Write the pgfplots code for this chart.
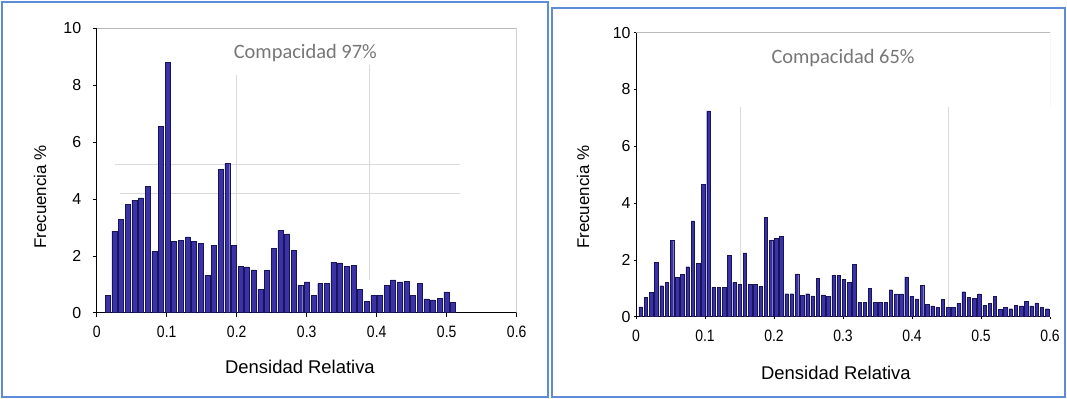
\documentclass[border=0pt]{standalone}
\usepackage{fontspec}
\setmainfont{Liberation Sans}
\newfontfamily\carlito{Carlito}
\newfontfamily\narrow[FakeStretch=0.85]{Liberation Sans}
\usepackage{pgfplots}
\pgfplotsset{compat=1.18}
\definecolor{bardark}{RGB}{24,20,88}
\definecolor{barfill}{RGB}{60,50,168}
\definecolor{framebl}{RGB}{95,140,215}
\definecolor{lightln}{RGB}{218,218,218}
\definecolor{boxgray}{RGB}{185,185,185}
\definecolor{txtgray}{RGB}{118,118,118}
\pgfplotsset{
  hist/.style={
    scale only axis,
    xmin=0, xmax=0.6, ymin=0, ymax=10,
    xtick={0,0.1,0.2,0.3,0.4,0.5,0.6},
    ytick={0,2,4,6,8,10},
    axis x line*=bottom, axis y line*=left,
    axis line style={black, line width=0.8pt},
    tick align=outside, major tick length=4bp,
    tick style={black, line width=0.6pt},
    xticklabel style={font=\narrow\fontsize{16.5}{16.5}\selectfont, yshift=-6bp},
    yticklabel style={font=\fontsize{16}{16}\selectfont},
    xlabel style={font=\fontsize{18.5}{18.5}\selectfont},
    ylabel style={font=\fontsize{17}{17}\selectfont},
    /pgf/number format/fixed,
    /pgf/number format/precision=1,
    /pgf/number format/assume math mode=true,
  },
  bars/.style={ybar, draw=bardark, line width=0.45pt, fill=barfill},
}
\begin{document}
\begin{tikzpicture}
\path[use as bounding box] (0,0) rectangle (1067bp,399bp);
\draw[framebl, line width=1.6bp] (2bp,2bp) rectangle (548bp,397bp);
\draw[framebl, line width=1.6bp] (552bp,2bp) rectangle (1065bp,391bp);

% ---------- left panel ----------
\begin{axis}[hist, at={(96.7bp,86.3bp)}, anchor=south west,
  width=420bp, height=284.4bp,
  yticklabel style={xshift=-8bp},
  xlabel={Densidad Relativa}, ylabel={Frecuencia \%},
  xlabel style={at={(axis description cs:0.484,-0.191)}, anchor=center},
  ylabel style={at={(axis description cs:-0.135,0.407)}, anchor=center}]
\draw[boxgray, line width=0.7pt] (rel axis cs:0,1) -- (rel axis cs:1,1) -- (rel axis cs:1,0);
\addplot[lightln, line width=0.7pt] coordinates {(0.026,5.2) (0.519,5.2)};
\addplot[lightln, line width=0.7pt] coordinates {(0.033,4.21) (0.519,4.21)};
\addplot[lightln, line width=0.7pt] coordinates {(0.199,8.35) (0.199,0.45)};
\addplot[lightln, line width=0.7pt] coordinates {(0.390,8.7) (0.390,1.15)};
\addplot[bars, bar width=0.0071] coordinates {
(0.0159,0.62) (0.0254,2.87) (0.0349,3.29) (0.0443,3.82) (0.0538,3.96)
(0.0633,4.04) (0.0728,4.43) (0.0823,2.16) (0.0917,6.54) (0.1012,8.80)
(0.1107,2.51) (0.1202,2.54) (0.1297,2.67) (0.1391,2.51) (0.1486,2.45)
(0.1581,1.32) (0.1676,2.38) (0.1771,5.04) (0.1865,5.25) (0.1960,2.38)
(0.2055,1.64) (0.2150,1.61) (0.2245,1.51) (0.2339,0.82) (0.2434,1.50)
(0.2529,2.25) (0.2624,2.89) (0.2719,2.77) (0.2813,2.20) (0.2908,0.97)
(0.3003,1.08) (0.3098,0.60) (0.3193,1.02) (0.3287,1.02) (0.3382,1.78)
(0.3477,1.75) (0.3572,1.62) (0.3667,1.66) (0.3761,0.82) (0.3856,0.39)
(0.3951,0.61) (0.4046,0.61) (0.4141,0.97) (0.4235,1.15) (0.4330,1.08)
(0.4425,1.10) (0.4520,0.60) (0.4615,1.03) (0.4709,0.49) (0.4804,0.45)
(0.4899,0.50) (0.4994,0.73) (0.5089,0.37)
};
\node[text=txtgray, font=\carlito\fontsize{20.5}{20.5}\selectfont] at (axis cs:0.298,9.13) {Compacidad 97\%};
\end{axis}

% ---------- right panel ----------
\begin{axis}[hist, at={(636bp,82.3bp)}, anchor=south west,
  width=414bp, height=284bp,
  xtick style={black, line width=0.4pt}, major tick length=2bp,
  xticklabel style={yshift=-2bp},
  xlabel={Densidad Relativa}, ylabel={Frecuencia \%},
  xlabel style={at={(axis description cs:0.483,-0.198)}, anchor=center},
  ylabel style={at={(axis description cs:-0.128,0.421)}, anchor=center}]
\draw[boxgray, line width=0.7pt] (rel axis cs:0,1) -- (rel axis cs:1,1) -- (axis cs:0.6,7.4);
\addplot[lightln, line width=0.7pt] coordinates {(0.1507,7.4) (0.1507,0.6)};
\addplot[lightln, line width=0.7pt] coordinates {(0.452,7.4) (0.452,0.1)};
\addplot[bars, bar width=0.0050, line width=0.35pt] coordinates {
(0.0068,0.35) (0.0144,0.68) (0.0219,0.86) (0.0295,1.91) (0.0370,1.09)
(0.0446,1.22) (0.0521,2.68) (0.0597,1.38) (0.0672,1.50) (0.0748,1.76)
(0.0823,3.37) (0.0899,1.88) (0.0974,4.66) (0.1050,7.25) (0.1125,1.03)
(0.1201,1.03) (0.1276,1.03) (0.1352,2.17) (0.1427,1.21) (0.1503,1.15)
(0.1578,2.25) (0.1654,1.14) (0.1729,1.14) (0.1805,1.08) (0.1880,3.50)
(0.1956,2.68) (0.2031,2.75) (0.2107,2.82) (0.2182,0.81) (0.2258,0.81)
(0.2333,1.51) (0.2409,0.75) (0.2484,0.81) (0.2560,0.73) (0.2635,1.34)
(0.2711,0.77) (0.2786,0.72) (0.2862,1.46) (0.2937,1.46) (0.3013,1.31)
(0.3088,1.22) (0.3164,1.84) (0.3239,0.50) (0.3315,0.50) (0.3390,1.00)
(0.3466,0.50) (0.3541,0.50) (0.3617,0.50) (0.3692,0.95) (0.3768,0.80)
(0.3843,0.80) (0.3919,1.40) (0.3994,0.72) (0.4070,0.63) (0.4145,1.10)
(0.4221,0.43) (0.4296,0.38) (0.4372,0.32) (0.4447,0.60) (0.4523,0.32)
(0.4598,0.32) (0.4674,0.47) (0.4749,0.88) (0.4825,0.68) (0.4900,0.65)
(0.4976,0.80) (0.5051,0.40) (0.5127,0.47) (0.5202,0.72) (0.5278,0.26)
(0.5353,0.32) (0.5429,0.28) (0.5504,0.41) (0.5580,0.38) (0.5655,0.53)
(0.5731,0.38) (0.5806,0.49) (0.5882,0.33) (0.5957,0.28)
};
\node[text=txtgray, font=\carlito\fontsize{20.5}{20.5}\selectfont] at (axis cs:0.30,9.1) {Compacidad 65\%};
\end{axis}
\end{tikzpicture}
\end{document}
